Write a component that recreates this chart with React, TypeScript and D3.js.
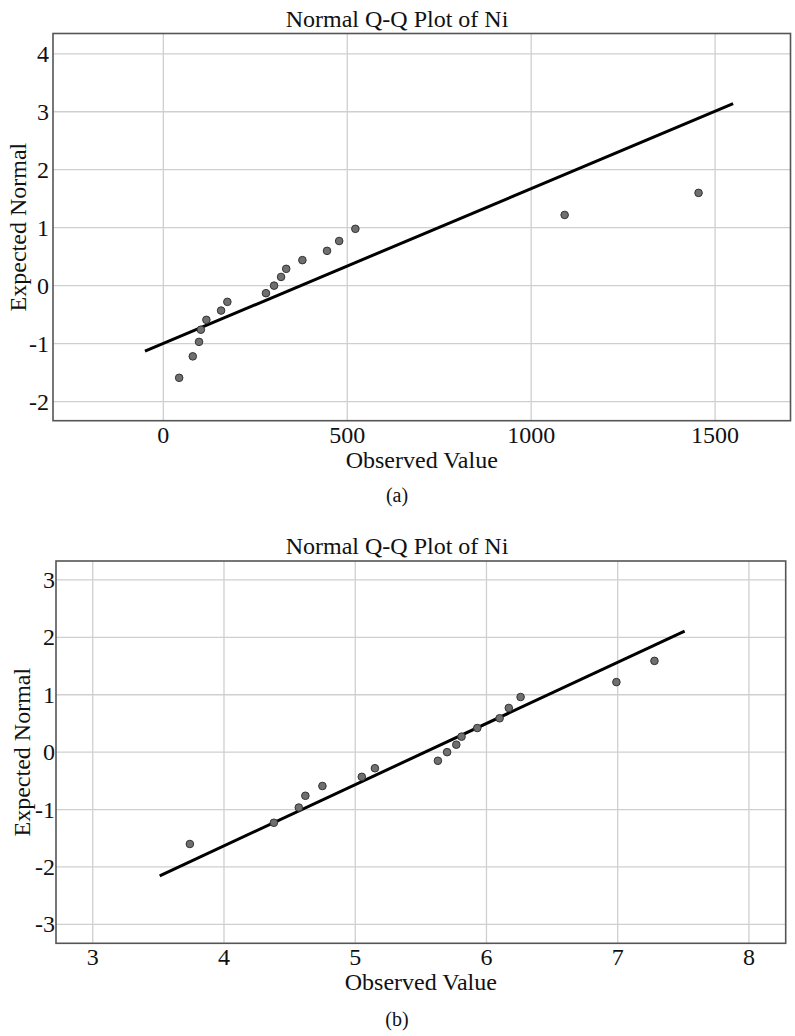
import React from "react";
import * as d3 from "d3";

// ---- Data: panel (a) raw Ni ----
const obsA = [43, 80, 97, 102, 117, 157, 174, 279, 301, 320, 334, 378, 445, 478, 522, 1091, 1455];
const expA = [-1.59, -1.22, -0.97, -0.76, -0.59, -0.43, -0.28, -0.13, 0.0, 0.15, 0.29, 0.44, 0.6, 0.77, 0.98, 1.22, 1.6];
const lineA: [number, number][] = [[-50, -1.13], [1549, 3.14]];
const xTicksA = [0, 500, 1000, 1500];
const yTicksA = [-2, -1, 0, 1, 2, 3, 4];

// ---- Data: panel (b) log-transformed Ni ----
const obsB = [3.74, 4.38, 4.57, 4.62, 4.75, 5.05, 5.15, 5.63, 5.7, 5.77, 5.81, 5.93, 6.1, 6.17, 6.26, 6.99, 7.28];
const expB = [-1.6, -1.23, -0.965, -0.76, -0.59, -0.43, -0.28, -0.15, 0.0, 0.13, 0.27, 0.42, 0.59, 0.77, 0.96, 1.22, 1.59];
const lineB: [number, number][] = [[3.51, -2.155], [7.51, 2.11]];
const xTicksB = [3, 4, 5, 6, 7, 8];
const yTicksB = [-3, -2, -1, 0, 1, 2, 3];

const TITLE = "Normal Q-Q Plot of Ni";
const X_LABEL = "Observed Value";
const Y_LABEL = "Expected Normal";

const FONT = "'Liberation Serif', 'Times New Roman', serif";

type PanelProps = {
  obs: number[];
  exp: number[];
  line: [number, number][];
  xTicks: number[];
  yTicks: number[];
  xDomain: [number, number];
  yDomain: [number, number];
  left: number;
  right: number;
  top: number;
  bottom: number;
  yLabelX: number;
  tickLabelGap: number;
  caption: string;
  captionY: number;
};

function Panel(p: PanelProps) {
  const x = d3.scaleLinear().domain(p.xDomain).range([p.left, p.right]);
  const y = d3.scaleLinear().domain(p.yDomain).range([p.bottom, p.top]);
  const lineGen = d3
    .line<[number, number]>()
    .x((d) => x(d[0]))
    .y((d) => y(d[1]));
  const cx = (p.left + p.right) / 2;
  const cy = (p.top + p.bottom) / 2;
  return (
    <g fontFamily={FONT} fill="#111">
      {p.xTicks.map((t) => (
        <line key={"gx" + t} x1={x(t)} x2={x(t)} y1={p.top} y2={p.bottom} stroke="#cfcfcf" strokeWidth={1.3} />
      ))}
      {p.yTicks.map((t) => (
        <line key={"gy" + t} x1={p.left} x2={p.right} y1={y(t)} y2={y(t)} stroke="#cfcfcf" strokeWidth={1.3} />
      ))}
      <rect x={p.left} y={p.top} width={p.right - p.left} height={p.bottom - p.top} fill="none" stroke="#555" strokeWidth={1.6} />
      <path d={lineGen(p.line) || ""} fill="none" stroke="#000" strokeWidth={3} />
      {p.obs.map((v, i) => (
        <circle key={"pt" + i} cx={x(v)} cy={y(p.exp[i])} r={3.8} fill="#6f6f6f" stroke="#333" strokeWidth={1} />
      ))}
      {p.xTicks.map((t) => (
        <text key={"tx" + t} x={x(t)} y={p.bottom + 22} textAnchor="middle" fontSize={24}>
          {t}
        </text>
      ))}
      {p.yTicks.map((t) => (
        <text key={"ty" + t} x={p.left - p.tickLabelGap} y={y(t) + 8} textAnchor="end" fontSize={24}>
          {t}
        </text>
      ))}
      <text x={397} y={p.top - 7} textAnchor="middle" fontSize={24}>
        {TITLE}
      </text>
      <text x={cx} y={p.bottom + 47} textAnchor="middle" fontSize={24}>
        {X_LABEL}
      </text>
      <text transform={`translate(${p.yLabelX},${cy}) rotate(-90)`} textAnchor="middle" fontSize={24}>
        {Y_LABEL}
      </text>
      <text x={397} y={p.captionY} textAnchor="middle" fontSize={20}>
        {p.caption}
      </text>
    </g>
  );
}

export default function App() {
  return (
    <svg
      width={795}
      height={1036}
      viewBox="0 0 795 1036"
      style={{ position: "absolute", left: 0, top: 0, background: "#fff" }}
    >
      <rect width={795} height={1036} fill="#fff" />
      <Panel
        obs={obsA}
        exp={expA}
        line={lineA}
        xTicks={xTicksA}
        yTicks={yTicksA}
        xDomain={[-300, 1705]}
        yDomain={[-2.33, 4.35]}
        left={53}
        right={790.5}
        top={33.5}
        bottom={420.7}
        yLabelX={26}
        tickLabelGap={4}
        caption="(a)"
        captionY={502}
      />
      <Panel
        obs={obsB}
        exp={expB}
        line={lineB}
        xTicks={xTicksB}
        yTicks={yTicksB}
        xDomain={[2.72, 8.28]}
        yDomain={[-3.33, 3.33]}
        left={56}
        right={785.7}
        top={561}
        bottom={943.3}
        yLabelX={30}
        tickLabelGap={1}
        caption="(b)"
        captionY={1026}
      />
    </svg>
  );
}
